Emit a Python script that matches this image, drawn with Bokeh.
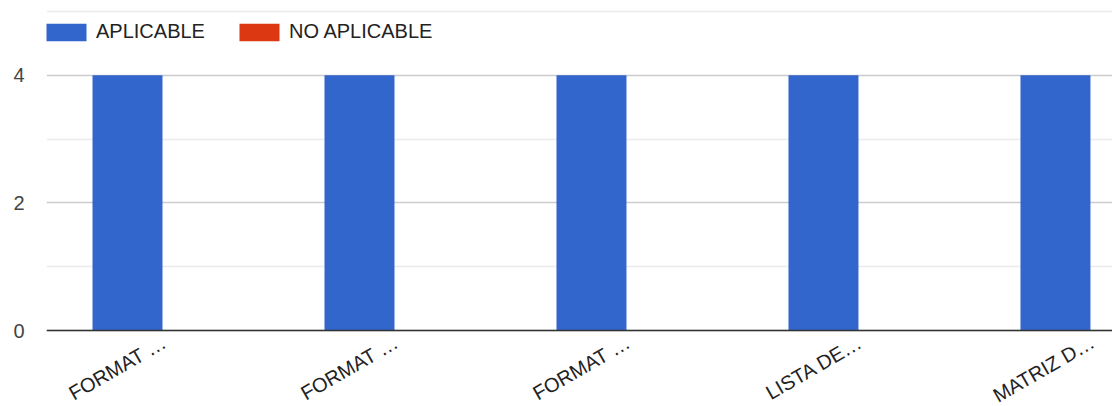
import math
from bokeh.plotting import figure
from bokeh.models import Range1d, FixedTicker, Legend, LegendItem, ColumnDataSource
from bokeh.core.properties import value
from bokeh.transform import dodge
from bokeh.embed import file_html
from bokeh.resources import INLINE

# Document categories (labels already shortened the way they appear on the axis)
categories = ["FORMAT \u2026", "FORMAT \u2026", "FORMAT \u2026", "LISTA DE\u2026", "MATRIZ D\u2026"]
aplicable = [4, 4, 4, 4, 4]
no_aplicable = [0, 0, 0, 0, 0]
y_ticks = [0, 2, 4]
y_minor = [1, 3, 5]

BLUE = "#3366cc"
RED = "#dc3912"
FONT = "Liberation Sans"

src = ColumnDataSource(dict(
    x=list(range(len(categories))),
    base=[0] * len(categories),
    name=categories,
    aplicable=aplicable,
    no_aplicable=no_aplicable,
))

# The frame runs down to the bottom edge so the slanted names under the
# baseline can be drawn as ordinary text glyphs.
unit_px = 319 / 5
p = figure(width=1112, height=406, output_backend="svg", toolbar_location=None,
           x_range=Range1d(-0.5, 4.095),
           y_range=Range1d(-76 / unit_px, 5 + 2 / unit_px),
           min_border_left=46, min_border_right=0, min_border_top=9,
           min_border_bottom=0)
p.outline_line_color = None
p.background_fill_color = "white"
p.border_fill_color = "white"
p.xaxis.visible = False

bw = 0.3017
r1 = p.vbar(x=dodge("x", -bw / 2, range=p.x_range), top="aplicable", width=bw,
            source=src, fill_color=BLUE, line_color=None)
r2 = p.vbar(x=dodge("x", bw / 2, range=p.x_range), top="no_aplicable", width=bw,
            source=src, fill_color=RED, line_color=None)

# y axis: labels only, grid at every unit
p.yaxis.ticker = FixedTicker(ticks=y_ticks, minor_ticks=y_minor)
p.yaxis.axis_line_color = None
p.yaxis.major_tick_line_color = None
p.yaxis.minor_tick_line_color = None
p.yaxis.major_label_standoff = 16
p.yaxis.major_label_text_font = FONT
p.yaxis.major_label_text_font_size = "20px"
p.yaxis.major_label_text_color = "#444444"

p.ygrid.ticker = FixedTicker(ticks=y_ticks, minor_ticks=y_minor)
p.ygrid.grid_line_color = "#cccccc"
p.ygrid.grid_line_width = 1.5
p.ygrid.minor_grid_line_color = "#ebebeb"
p.ygrid.minor_grid_line_width = 1.5
p.xgrid.grid_line_color = None

# baseline at zero
p.hspan(y=[0], line_color="#333333", line_width=1.5)

# slanted category names hanging from the baseline
p.text(x="x", y="base", text="name", source=src,
       angle=math.pi / 6, x_offset=2, y_offset=10,
       text_align="right", text_baseline="alphabetic",
       text_font=value(FONT), text_font_size="20px", text_color="#222222")

legend = Legend(items=[LegendItem(label="APLICABLE", renderers=[r1]),
                       LegendItem(label="NO APLICABLE", renderers=[r2])],
                orientation="horizontal", location=(-5, 363),
                glyph_width=50, glyph_height=22, label_height=22,
                label_standoff=5, spacing=29, padding=0, margin=0,
                border_line_color=None, background_fill_alpha=0,
                label_text_font=FONT, label_text_font_size="20px",
                label_text_color="#222222")
p.add_layout(legend)

open("out.html", "w").write(file_html(p, INLINE))
